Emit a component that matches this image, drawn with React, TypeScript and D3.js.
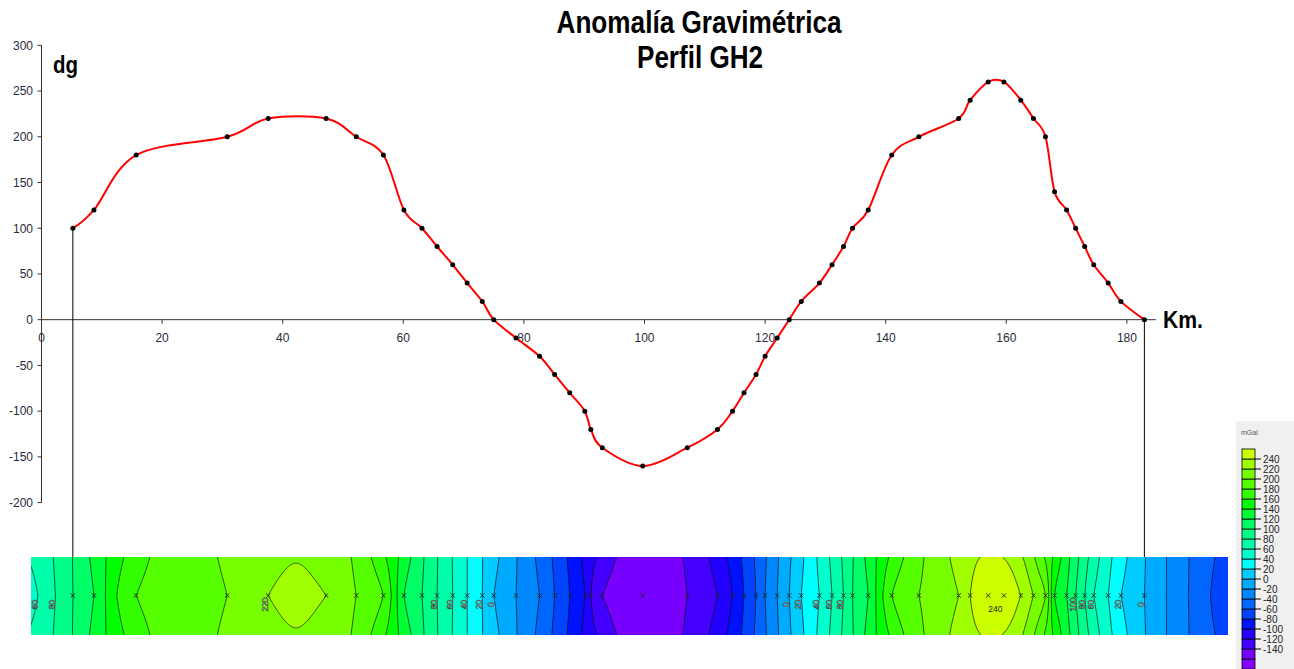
import React, { useMemo } from "react";
import * as d3 from "d3";

// ---- data ----
const kmPositions = [5.2, 8.7, 15.7, 30.8, 37.6, 47.2, 52.2, 56.7, 60.1, 63.1, 65.6, 68.2, 70.6, 73.1, 75.0, 78.7, 82.6, 85.1, 87.6, 90.1, 91.1, 93.0, 99.7, 107.1, 112.1, 114.6, 116.5, 118.5, 120.0, 122.0, 124.0, 126.0, 129.0, 131.1, 133.0, 134.5, 137.1, 141.0, 145.5, 152.1, 154.0, 157.0, 159.6, 162.4, 164.5, 166.5, 168.0, 170.0, 171.5, 173.0, 174.5, 176.9, 179.0, 182.9];
const anomalyValues = [100, 120, 180, 200, 220, 220, 200, 180, 120, 100, 80, 60, 40, 20, 0, -20, -40, -60, -80, -100, -120, -140, -160, -140, -120, -100, -80, -60, -40, -20, 0, 20, 40, 60, 80, 100, 120, 180, 200, 220, 240, 260, 260, 240, 220, 200, 140, 120, 100, 80, 60, 40, 20, 0];
const stripEdgeValues = [52, -76]; // field value at the left / right end of the contour strip
const xTicks = [0, 20, 40, 60, 80, 100, 120, 140, 160, 180];
const yTicks = [-200, -150, -100, -50, 0, 50, 100, 150, 200, 250, 300];
const bandFloors = [-180, -160, -140, -120, -100, -80, -60, -40, -20, 0, 20, 40, 60, 80, 100, 120, 140, 160, 180, 200, 220, 240];
const bandColors = ["#8800ff", "#7700ff", "#4400ff", "#2200ff", "#0011ff", "#0044ff", "#0066ff", "#0088ff", "#00aaff", "#00ccff", "#00ffff", "#00ffcc", "#00ffaa", "#00ff88", "#00ff66", "#00ff33", "#00ff00", "#33ff00", "#55ff00", "#77ff00", "#a0ff00", "#ccff00"];
const legendLabels = [240, 220, 200, 180, 160, 140, 120, 100, 80, 60, 40, 20, 0, -20, -40, -60, -80, -100, -120, -140];
const stripLevels = [-140, -120, -100, -80, -60, -40, -20, 0, 20, 40, 60, 80, 100, 120, 140, 160, 180, 200, 220, 240];
const contourLabelSeq = [60, 80, 220, 80, 60, 40, 20, 0, 0, 20, 40, 60, 80, 240, 100, 80, 60, 20, 0];
const horizontalLabelLevels = [240];
const titleLines = ["Anomalía Gravimétrica", "Perfil GH2"];

const NARROW = "'Liberation Sans Narrow', 'Arial Narrow', 'Liberation Sans', Arial, sans-serif";
const SANS = "'Liberation Sans', Arial, sans-serif";

function sampleCurve(points: [number, number][]) {
  const out: [number, number][] = [];
  let cx = 0, cy = 0;
  const ctx: any = {
    moveTo(a: number, b: number) { cx = a; cy = b; out.push([a, b]); },
    lineTo(a: number, b: number) { cx = a; cy = b; out.push([a, b]); },
    bezierCurveTo(x1: number, y1: number, x2: number, y2: number, a: number, b: number) {
      for (let s = 1; s <= 30; s++) {
        const t = s / 30, u = 1 - t;
        out.push([
          u * u * u * cx + 3 * u * u * t * x1 + 3 * u * t * t * x2 + t * t * t * a,
          u * u * u * cy + 3 * u * u * t * y1 + 3 * u * t * t * y2 + t * t * t * b,
        ]);
      }
      cx = a; cy = b;
    },
    closePath() {},
  };
  (d3.line().curve(d3.curveCardinal.tension(0)) as any).context(ctx)(points);
  return out;
}

export default function App() {
  const W = 1294, H = 669;
  const x = d3.scaleLinear().domain([0, 180]).range([41.5, 1126.9]);
  const y = d3.scaleLinear().domain([-200, 300]).range([502.6, 45.3]);
  const y0 = y(0);
  const pts = kmPositions.map((k, i) => [x(k), y(anomalyValues[i])] as [number, number]);
  const linePath = d3.line().curve(d3.curveCardinal.tension(0))(pts) || "";

  // strip geometry
  const sX0 = 31, sX1 = 1228, sY0 = 557, sY1 = 635;
  const sCy = 595.5;

  const strip = useMemo(() => {
    const samples = sampleCurve(pts).slice().sort((a, b) => a[0] - b[0]);
    const sxs = samples.map((s) => s[0]);
    const svs = samples.map((s) => y.invert(s[1]));
    const firstX = pts[0][0], lastX = pts[pts.length - 1][0];
    const firstV = anomalyValues[0], lastV = anomalyValues[anomalyValues.length - 1];
    const centre = (px: number) => {
      if (px <= firstX) return stripEdgeValues[0] + (firstV - stripEdgeValues[0]) * (px - sX0) / (firstX - sX0);
      if (px >= lastX) return lastV + (stripEdgeValues[1] - lastV) * (px - lastX) / (sX1 - lastX);
      const i = Math.max(1, Math.min(sxs.length - 1, d3.bisectLeft(sxs, px)));
      const xa = sxs[i - 1], xb = sxs[i];
      const t = xb === xa ? 0 : (px - xa) / (xb - xa);
      return svs[i - 1] + (svs[i] - svs[i - 1]) * t;
    };
    const pad = 3, cellW = 1, cellH = 2;
    const gx0 = sX0 - pad, gy0 = sY0 - pad;
    const n = Math.ceil((sX1 - sX0 + 2 * pad) / cellW);
    const m = Math.ceil((sY1 - sY0 + 2 * pad) / cellH);
    const g = new Array(n);
    for (let i = 0; i < n; i++) g[i] = centre(gx0 + (i + 0.5) * cellW);
    const sigma = 27 / cellW;
    const R = Math.ceil(sigma * 3);
    const kern: number[] = [];
    for (let k = -R; k <= R; k++) kern.push(Math.exp(-(k * k) / (2 * sigma * sigma)));
    const gs = new Array(n);
    for (let i = 0; i < n; i++) {
      let s = 0, ws = 0;
      for (let k = -R; k <= R; k++) {
        const j = Math.min(n - 1, Math.max(0, i + k));
        s += g[j] * kern[k + R];
        ws += kern[k + R];
      }
      gs[i] = s / ws;
    }
    const half = (sY1 - sY0) / 2;
    const values = new Array(n * m);
    for (let j = 0; j < m; j++) {
      const gy = gy0 + (j + 0.5) * cellH;
      const t = Math.min(1, Math.abs(gy - sCy) / half);
      const w = t;
      for (let i = 0; i < n; i++) values[i + j * n] = g[i] + (gs[i] - g[i]) * w;
    }
    const cs = d3.contours().size([n, m]).thresholds(stripLevels)(values);
    const toPath = (coords: any) =>
      coords
        .map((poly: any) =>
          poly
            .map((ring: any) =>
              "M" + ring.map(([cx, cy]: number[]) => `${(gx0 + cx * cellW).toFixed(2)},${(gy0 + cy * cellH).toFixed(2)}`).join("L") + "Z"
            )
            .join("")
        )
        .join("");
    const bands = cs.map((c) => ({ level: c.value, d: toPath(c.coordinates) }));

    // centre-line crossings for labels
    const crossings: { x: number; level: number }[] = [];
    for (let i = 0; i < n - 1; i++) {
      for (const L of stripLevels) {
        const a = g[i] - L, b = g[i + 1] - L;
        if ((a < 0 && b >= 0) || (a >= 0 && b < 0)) {
          const t = a / (a - b);
          crossings.push({ x: gx0 + (i + 0.5 + t) * cellW, level: L });
        }
      }
    }
    crossings.sort((p, q) => p.x - q.x);
    const labels: { x: number; y: number; level: number; rot: number }[] = [];
    let k = 0;
    for (let ci = 0; ci < crossings.length && k < contourLabelSeq.length; ci++) {
      const c = crossings[ci];
      if (c.level !== contourLabelSeq[k]) continue;
      if (horizontalLabelLevels.includes(c.level)) {
        const other = crossings.slice(ci + 1).find((o) => o.level === c.level);
        const xm = other ? (c.x + other.x) / 2 : c.x;
        labels.push({ x: xm, y: sCy + 13, level: c.level, rot: 0 });
      } else {
        labels.push({ x: c.x - 3, y: sCy + 9, level: c.level, rot: -90 });
      }
      k++;
    }
    return { bands, labels };
  }, []);

  const colorOf = (lvl: number) => bandColors[bandFloors.indexOf(lvl)];
  const legendY = d3.scaleLinear().domain([260, -180]).range([449, 669]);

  return (
    <svg width={W} height={H} style={{ position: "absolute", left: 0, top: 0, background: "#fff" }}>
      <rect x={0} y={0} width={W} height={H} fill="#fff" />
      {/* title */}
      <text x={699} y={33} textAnchor="middle" fontFamily={NARROW} fontWeight="bold" fontSize={31} textLength={285} lengthAdjust="spacingAndGlyphs" fill="#000">{titleLines[0]}</text>
      <text x={700} y={68} textAnchor="middle" fontFamily={NARROW} fontWeight="bold" fontSize={31} textLength={126} lengthAdjust="spacingAndGlyphs" fill="#000">{titleLines[1]}</text>

      {/* axes */}
      <line x1={x(0)} x2={x(0)} y1={y(300)} y2={y(-200)} stroke="#333" strokeWidth={1} />
      <line x1={x(0)} x2={x(184.8)} y1={y0} y2={y0} stroke="#333" strokeWidth={1} />
      {yTicks.map((t) => (
        <g key={"y" + t}>
          <line x1={x(0) - 4} x2={x(0)} y1={y(t)} y2={y(t)} stroke="#333" />
          <text x={33} y={y(t) + 4.3} textAnchor="end" fontFamily={SANS} fontSize={12} fill="#2a2a3a">{t}</text>
        </g>
      ))}
      {xTicks.map((t) => (
        <g key={"x" + t}>
          <line x1={x(t)} x2={x(t)} y1={y0} y2={y0 + 4} stroke="#333" />
          <text x={x(t)} y={y0 + 22} textAnchor="middle" fontFamily={SANS} fontSize={12} fill="#2a2a3a">{t}</text>
        </g>
      ))}
      <text x={53} y={73} fontFamily={NARROW} fontWeight="bold" fontSize={24} textLength={25} lengthAdjust="spacingAndGlyphs" fill="#000">dg</text>
      <text x={1163} y={328} fontFamily={NARROW} fontWeight="bold" fontSize={24} textLength={40} lengthAdjust="spacingAndGlyphs" fill="#000">Km.</text>

      {/* connectors to strip */}
      <line x1={pts[0][0]} x2={pts[0][0]} y1={pts[0][1]} y2={594} stroke="#000" strokeWidth={1} />
      <line x1={pts[pts.length - 1][0]} x2={pts[pts.length - 1][0]} y1={pts[pts.length - 1][1]} y2={594} stroke="#000" strokeWidth={1} />

      {/* profile */}
      <path d={linePath} fill="none" stroke="#ff0000" strokeWidth={2} />
      {pts.map((p, i) => (
        <circle key={"p" + i} cx={p[0]} cy={p[1]} r={2.5} fill="#000" />
      ))}

      {/* contour strip */}
      <defs>
        <clipPath id="stripClip">
          <rect x={sX0} y={sY0} width={sX1 - sX0} height={sY1 - sY0} />
        </clipPath>
      </defs>
      <g clipPath="url(#stripClip)">
        <rect x={sX0} y={sY0} width={sX1 - sX0} height={sY1 - sY0} fill={colorOf(-160)} />
        {strip.bands.map((b) => (
          <path key={"f" + b.level} d={b.d} fill={colorOf(b.level)} fillRule="evenodd" stroke="none" />
        ))}
        {strip.bands.map((b) => (
          <path key={"s" + b.level} d={b.d} fill="none" stroke="#111" strokeWidth={0.8} strokeOpacity={0.85} />
        ))}
        {pts.map((p, i) => (
          <g key={"m" + i} stroke="#222" strokeWidth={0.9}>
            <line x1={p[0] - 2.2} x2={p[0] + 2.2} y1={sCy - 2.2} y2={sCy + 2.2} />
            <line x1={p[0] - 2.2} x2={p[0] + 2.2} y1={sCy + 2.2} y2={sCy - 2.2} />
          </g>
        ))}
        {strip.labels.map((l, i) => (
          <text key={"l" + i} transform={`translate(${l.x},${l.y}) rotate(${l.rot})`} textAnchor="middle" dominantBaseline="central" fontFamily={SANS} fontSize={8.5} fill={l.rot === 0 ? "#222" : "#fff"} stroke={l.rot === 0 ? "none" : "#333"} strokeWidth={0.5}>{l.level}</text>
        ))}
      </g>

      {/* colour legend */}
      <rect x={1236} y={421} width={58} height={248} fill="#f0f0f0" />
      <text x={1241} y={435} fontFamily={SANS} fontSize={7} fill="#555">mGal</text>
      {bandFloors.map((f, i) => (
        <rect key={"lg" + f} x={1242} y={legendY(f + 20)} width={13} height={legendY(f) - legendY(f + 20)} fill={bandColors[i]} stroke="#000" strokeWidth={0.8} />
      ))}
      {legendLabels.map((v) => (
        <g key={"ll" + v}>
          <line x1={1255} x2={1261} y1={legendY(v)} y2={legendY(v)} stroke="#000" strokeWidth={1} />
          <text x={1263} y={legendY(v) + 3.5} fontFamily={NARROW} fontSize={10} fill="#222">{v}</text>
        </g>
      ))}
    </svg>
  );
}
